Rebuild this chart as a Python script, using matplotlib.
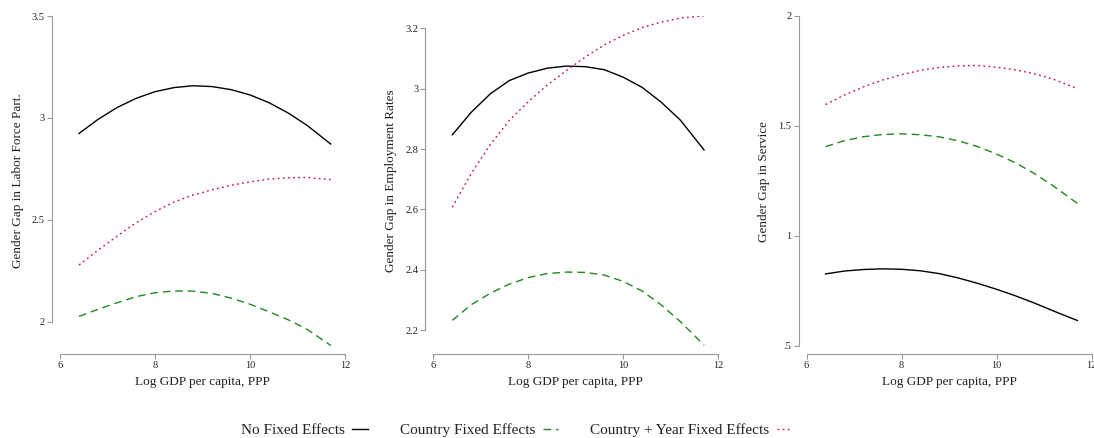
import numpy as np
import matplotlib
matplotlib.use('Agg')
import matplotlib.pyplot as plt

plt.rcParams['font.family'] = ['Liberation Serif', 'DejaVu Serif']

# values
gdp = [6.4, 6.8, 7.2, 7.6, 8.0, 8.4, 8.8, 9.2, 9.6, 10.0, 10.4, 10.8, 11.2, 11.7]

lfp_none = [2.924, 2.993, 3.051, 3.096, 3.129, 3.149, 3.158, 3.154, 3.139,
            3.113, 3.075, 3.025, 2.964, 2.872]
lfp_country = [2.027, 2.062, 2.094, 2.124, 2.143, 2.152, 2.151, 2.140, 2.117,
               2.087, 2.050, 2.011, 1.964, 1.885]
lfp_year = [2.279, 2.352, 2.420, 2.486, 2.541, 2.588, 2.622, 2.648, 2.670,
            2.687, 2.700, 2.707, 2.708, 2.698]

emp_none = [2.847, 2.922, 2.983, 3.027, 3.052, 3.068, 3.075, 3.073, 3.063,
            3.038, 3.004, 2.955, 2.896, 2.797]
emp_country = [2.232, 2.284, 2.322, 2.352, 2.374, 2.387, 2.392, 2.391, 2.382,
               2.361, 2.329, 2.283, 2.228, 2.150]
emp_year = [2.607, 2.719, 2.815, 2.895, 2.957, 3.012, 3.060, 3.105, 3.145,
            3.177, 3.203, 3.221, 3.234, 3.242]

srv_none = [0.827, 0.840, 0.847, 0.850, 0.848, 0.841, 0.828, 0.808, 0.784,
            0.757, 0.727, 0.694, 0.658, 0.615]
srv_country = [1.406, 1.433, 1.451, 1.461, 1.464, 1.460, 1.450, 1.432, 1.406,
               1.372, 1.332, 1.283, 1.226, 1.148]
srv_year = [1.597, 1.641, 1.678, 1.709, 1.733, 1.753, 1.766, 1.773, 1.775,
            1.767, 1.755, 1.737, 1.712, 1.670]

xticks = [6, 8, 10, 12]
panels = [
    dict(title='Gender Gap in Labor Force Part.',
         series=(lfp_none, lfp_country, lfp_year),
         yticks=[2, 2.5, 3, 3.5], ylabels=['2', '2.5', '3', '3.5'],
         ylim=(1.882, 3.5)),
    dict(title='Gender Gap in Employment Rates',
         series=(emp_none, emp_country, emp_year),
         yticks=[2.2, 2.4, 2.6, 2.8, 3.0, 3.2],
         ylabels=['2.2', '2.4', '2.6', '2.8', '3', '3.2'],
         ylim=(2.147, 3.241)),
    dict(title='Gender Gap in Service',
         series=(srv_none, srv_country, srv_year),
         yticks=[0.5, 1, 1.5, 2], ylabels=['.5', '1', '1.5', '2'],
         ylim=(0.499, 2.0)),
]

names = ['No Fixed Effects', 'Country Fixed Effects',
         'Country + Year Fixed Effects']
colors = ['black', '#1f8a1f', '#cc1444']
styles = [dict(ls='-'), dict(ls=(0, (5.5, 3.5))), dict(ls=(0, (1.3, 2.4)))]

W, H = 1094., 438.
fig = plt.figure(figsize=(W / 100, H / 100), dpi=100)
spine_col = '#999999'
txt_col = '#222222'

for i, p in enumerate(panels):
    left = 60 + 373.3 * i
    ax = fig.add_axes([left / W, 1 - 346 / H, 285 / W, 330 / H])
    handles = []
    for s, name, c, st in zip(p['series'], names, colors, styles):
        h, = ax.plot(gdp, s, color=c, lw=1.0, label=name, **st)
        handles.append(h)
    ax.set_xlim(6, 12)
    ax.set_ylim(*p['ylim'])
    ax.set_xticks(xticks)
    ax.set_xticklabels([str(t) for t in xticks])
    ax.set_yticks(p['yticks'])
    ax.set_yticklabels(p['ylabels'])
    for side in ['top', 'right']:
        ax.spines[side].set_visible(False)
    ax.spines['left'].set_position(('outward', 5.8))
    ax.spines['bottom'].set_position(('outward', 5.8))
    ax.spines['left'].set_bounds(p['yticks'][0], p['yticks'][-1])
    ax.spines['bottom'].set_bounds(6, 12)
    for side in ['left', 'bottom']:
        ax.spines[side].set_color(spine_col)
        ax.spines[side].set_linewidth(0.8)
    ax.tick_params(colors=spine_col, labelcolor=txt_col, labelsize=7.5,
                   length=3.5, width=0.8, pad=1.5)
    ax.set_ylabel(p['title'], fontsize=9.5, color=txt_col, labelpad=6)
    ax.set_xlabel('Log GDP per capita, PPP', fontsize=9.5, color=txt_col,
                  labelpad=4)
    ax.patch.set_visible(False)

fig.legend(handles, names, loc='center', bbox_to_anchor=(0.472, 1 - 430 / H),
           ncol=3, frameon=False, markerfirst=False, fontsize=11,
           handlelength=1.0, handletextpad=0.5, columnspacing=2.1,
           labelcolor=txt_col)

fig.savefig('out.png', dpi=100)
